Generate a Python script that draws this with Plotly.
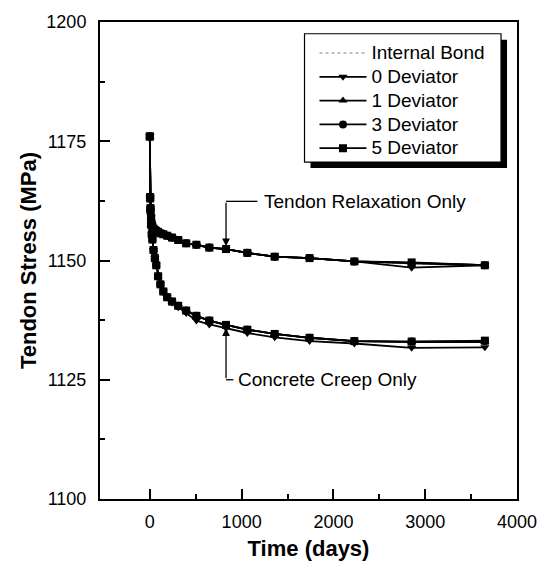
import plotly.graph_objects as go

# ---- data ----
times = [0, 3, 7, 14, 21, 28, 40, 55, 70, 90, 115, 147, 189, 242, 309, 396,
         507, 648, 830, 1062, 1360, 1740, 2228, 2852, 3650]

# upper branch: tendon relaxation only
relax_internal = [1176.0, 1163.3, 1161.0, 1159.0, 1157.6, 1157.0, 1156.7, 1156.4, 1156.2, 1156.0, 1155.7, 1155.5, 1155.2,
                  1154.8, 1154.3, 1153.6, 1153.3, 1152.7, 1152.4, 1151.6, 1150.8, 1150.5, 1149.8, 1149.3, 1149.0]
relax_dev0 = [1176.0, 1163.3, 1161.0, 1159.0, 1157.6, 1157.0, 1156.7, 1156.4, 1156.2, 1156.0, 1155.7, 1155.5, 1155.2,
              1154.8, 1154.3, 1153.6, 1153.3, 1152.7, 1152.4, 1151.6, 1150.8, 1150.5, 1149.8, 1148.5, 1149.0]
relax_dev1 = [1176.0, 1163.3, 1161.0, 1159.0, 1157.6, 1157.0, 1156.7, 1156.4, 1156.2, 1156.0, 1155.7, 1155.5, 1155.2,
              1154.8, 1154.3, 1153.6, 1153.3, 1152.7, 1152.4, 1151.6, 1150.8, 1150.5, 1149.8, 1149.4, 1149.0]
relax_dev3 = [1176.0, 1163.3, 1161.0, 1159.0, 1157.6, 1157.0, 1156.7, 1156.4, 1156.2, 1156.0, 1155.7, 1155.5, 1155.2,
              1154.8, 1154.3, 1153.6, 1153.3, 1152.7, 1152.4, 1151.6, 1150.8, 1150.5, 1149.8, 1149.5, 1149.0]
relax_dev5 = [1176.0, 1163.3, 1161.0, 1159.0, 1157.6, 1157.0, 1156.7, 1156.4, 1156.2, 1156.0, 1155.7, 1155.5, 1155.2,
              1154.8, 1154.3, 1153.6, 1153.3, 1152.7, 1152.4, 1151.6, 1150.8, 1150.5, 1149.8, 1149.6, 1149.0]

# lower branch: concrete creep only
creep_internal = [1176.0, 1163.0, 1160.5, 1157.5, 1155.5, 1154.4, 1152.2, 1150.5, 1149.0, 1146.7, 1145.0, 1143.5, 1142.3,
                  1141.4, 1140.5, 1139.5, 1138.4, 1137.4, 1136.5, 1135.5, 1134.6, 1133.8, 1133.1, 1132.9, 1132.9]
creep_dev0 = [1176.0, 1163.0, 1160.5, 1157.5, 1155.5, 1154.4, 1152.2, 1150.5, 1149.0, 1146.7, 1145.0, 1143.5, 1142.3,
              1141.2, 1140.2, 1139.0, 1137.4, 1136.6, 1135.8, 1134.8, 1133.9, 1133.1, 1132.6, 1131.7, 1131.8]
creep_dev1 = [1176.0, 1163.0, 1160.5, 1157.5, 1155.5, 1154.4, 1152.2, 1150.5, 1149.0, 1146.7, 1145.0, 1143.5, 1142.3,
              1141.4, 1140.5, 1139.5, 1138.4, 1137.4, 1136.5, 1135.5, 1134.6, 1133.8, 1133.1, 1132.9, 1132.9]
creep_dev3 = [1176.0, 1163.0, 1160.5, 1157.5, 1155.5, 1154.4, 1152.2, 1150.5, 1149.0, 1146.7, 1145.0, 1143.5, 1142.3,
              1141.4, 1140.5, 1139.5, 1138.4, 1137.4, 1136.5, 1135.5, 1134.6, 1133.8, 1133.1, 1133.0, 1133.1]
creep_dev5 = [1176.0, 1163.0, 1160.5, 1157.5, 1155.5, 1154.4, 1152.2, 1150.5, 1149.0, 1146.7, 1145.0, 1143.5, 1142.3,
              1141.4, 1140.5, 1139.5, 1138.4, 1137.4, 1136.5, 1135.5, 1134.6, 1133.8, 1133.1, 1133.0, 1133.2]

series_names = ["Internal Bond", "0 Deviator", "1 Deviator", "3 Deviator", "5 Deviator"]
series_symbols = [None, "triangle-down", "triangle-up", "circle", "square"]
relax_values = [relax_internal, relax_dev0, relax_dev1, relax_dev3, relax_dev5]
creep_values = [creep_internal, creep_dev0, creep_dev1, creep_dev3, creep_dev5]

# annotation anchor points (data coordinates)
relax_label = "Tendon Relaxation Only"
creep_label = "Concrete Creep Only"
arrow_t = 830
relax_tip, relax_text_y = 1153.0, 1162.4
creep_tip, creep_text_y = 1135.8, 1125.0
text_t_relax, text_t_creep = 1217, 935

FONT = "Arial, Liberation Sans, Helvetica, sans-serif"

# plot-area geometry in pixels (used to place the legend box)
L, R, T, B = 100, 518, 12, 499
PW, PH = R - L, B - T


def px(x):
    return (x - L) / PW


def py(y):
    return (B - y) / PH


fig = go.Figure()

for i, name in enumerate(series_names):
    sym = series_symbols[i]
    if sym is None:
        line = dict(color="#a8a8a8", width=1.5, dash="dot")
        mode = "lines"
        marker = None
    else:
        line = dict(color="black", width=1.8)
        mode = "lines+markers"
        marker = dict(symbol=sym, size=8, color="black")
    label = '<span style="font-size:19px">%s</span>' % name
    for j, vals in enumerate([relax_values[i], creep_values[i]]):
        kw = dict(x=times, y=vals, mode=mode, name=label, line=line,
                  legendgroup=name, showlegend=(j == 0))
        if marker is not None:
            kw["marker"] = marker
        fig.add_trace(go.Scatter(**kw))

# leader lines with arrows
fig.add_annotation(x=arrow_t, y=relax_tip, ax=arrow_t, ay=relax_text_y, xref="x", yref="y",
                   axref="x", ayref="y", showarrow=True, arrowhead=2, arrowsize=1.2,
                   arrowwidth=1.3, arrowcolor="black", text="")
fig.add_annotation(x=arrow_t, y=creep_tip, ax=arrow_t, ay=creep_text_y, xref="x", yref="y",
                   axref="x", ayref="y", showarrow=True, arrowhead=2, arrowsize=1.2,
                   arrowwidth=1.3, arrowcolor="black", text="")
fig.add_shape(type="line", x0=arrow_t, x1=text_t_relax - 45, y0=relax_text_y, y1=relax_text_y,
              xref="x", yref="y", line=dict(color="black", width=1.3))
fig.add_shape(type="line", x0=arrow_t, x1=text_t_creep - 25, y0=creep_text_y, y1=creep_text_y,
              xref="x", yref="y", line=dict(color="black", width=1.3))
fig.add_annotation(x=text_t_relax, y=relax_text_y, xref="x", yref="y", text=relax_label,
                   showarrow=False, xanchor="left", yanchor="middle",
                   font=dict(family=FONT, size=19, color="black"))
fig.add_annotation(x=text_t_creep, y=creep_text_y, xref="x", yref="y", text=creep_label,
                   showarrow=False, xanchor="left", yanchor="middle",
                   font=dict(family=FONT, size=19, color="black"))

# legend box with drop shadow
fig.add_shape(type="rect", xref="paper", yref="paper",
              x0=px(311), x1=px(508), y0=py(161), y1=py(30),
              fillcolor="black", line=dict(width=0), layer="above")
fig.add_shape(type="rect", xref="paper", yref="paper",
              x0=px(305), x1=px(502), y0=py(155), y1=py(24),
              fillcolor="white", line=dict(color="black", width=1.2), layer="above")

fig.update_layout(
    width=549, height=570,
    margin=dict(l=L, r=549 - R, t=T, b=570 - B),
    paper_bgcolor="white", plot_bgcolor="white",
    font=dict(family=FONT, size=18, color="black"),
    showlegend=True,
    legend=dict(x=px(315), y=py(26.4), xanchor="left", yanchor="top",
                bgcolor="rgba(0,0,0,0)", borderwidth=0,
                font=dict(family=FONT, size=16, color="black"),
                tracegroupgap=0, itemwidth=47),
)

fig.update_xaxes(range=[-543, 4000], tickvals=[0, 1000, 2000, 3000, 4000],
                 ticks="inside", ticklen=10, tickwidth=1.5, tickcolor="black",
                 ticklabelstandoff=5,
                 minor=dict(tickvals=[500, 1500, 2500, 3500], ticks="inside", ticklen=5,
                            tickwidth=1.5, tickcolor="black"),
                 showline=True, linecolor="black", linewidth=2, mirror=True,
                 showgrid=False, zeroline=False,
                 title=dict(text="<b>Time (days)</b>", font=dict(size=22), standoff=10))
fig.update_yaxes(range=[1100, 1200], tickvals=[1100, 1125, 1150, 1175, 1200],
                 ticks="inside", ticklen=10, tickwidth=1.5, tickcolor="black",
                 ticklabelstandoff=8,
                 minor=dict(tickvals=[1112.5, 1137.5, 1162.5, 1187.5], ticks="inside", ticklen=5,
                            tickwidth=1.5, tickcolor="black"),
                 showline=True, linecolor="black", linewidth=2, mirror=True,
                 showgrid=False, zeroline=False,
                 title=dict(text="<b>Tendon Stress (MPa)</b>", font=dict(size=22), standoff=4))

fig.write_html("out.html")
